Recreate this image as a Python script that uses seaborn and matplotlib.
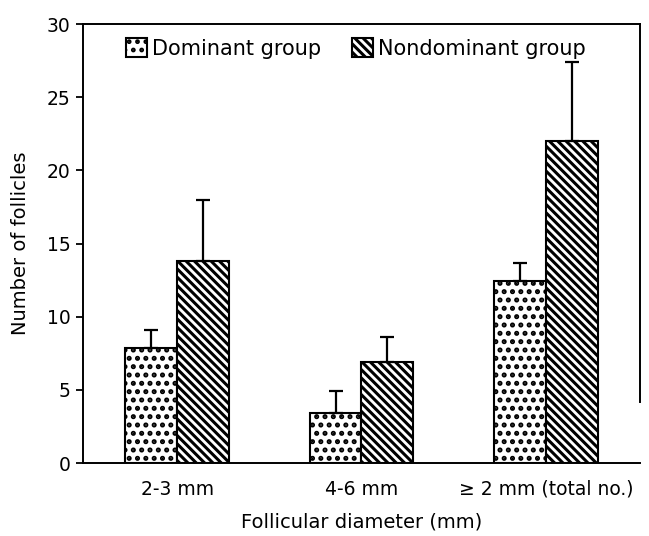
import matplotlib
matplotlib.use("Agg")
import matplotlib.pyplot as plt
import seaborn as sns
import pandas as pd
import numpy as np

# ---- data ----
categories = ["2-3 mm", "4-6 mm", "\u2265 2 mm (total no.)"]
groups = ["Dominant group", "Nondominant group"]
dominant_mean = [7.9, 3.4, 12.45]
dominant_err = [1.2, 1.5, 1.25]
nondominant_mean = [13.8, 6.9, 22.0]
nondominant_err = [4.2, 1.7, 5.4]
yticks = [0, 5, 10, 15, 20, 25, 30]

df = pd.DataFrame({
    "category": categories * 2,
    "group": [groups[0]] * 3 + [groups[1]] * 3,
    "value": dominant_mean + nondominant_mean,
    "err": dominant_err + nondominant_err,
})

sns.set_style("white")
plt.rcParams["font.family"] = ["DejaVu Sans"]
plt.rcParams["hatch.linewidth"] = 2.2
plt.rcParams["hatch.color"] = "black"
for k in ["text.color", "axes.labelcolor", "xtick.color", "ytick.color"]:
    plt.rcParams[k] = "black"

fig = plt.figure(figsize=(6.49, 5.36), dpi=100)
ax = fig.add_axes([0.128, 0.136, 0.858, 0.819])

sns.barplot(data=df, x="category", y="value", hue="group", order=categories,
            hue_order=groups, palette=["white", "white"], width=0.56,
            errorbar=None, edgecolor="black", linewidth=1.5, legend=False, ax=ax)

hatches = {groups[0]: "..", groups[1]: "\\\\\\\\"}
hatch_lw = {groups[0]: 2.4, groups[1]: 2.2}
bars = [p for p in ax.patches if p.get_width() > 0]
errs = dominant_err + nondominant_err
handles = []
for i, p in enumerate(bars):
    g = groups[i // 3]
    p.set_hatch(hatches[g])
    if hasattr(p, "set_hatch_linewidth"):
        p.set_hatch_linewidth(hatch_lw[g])
    p.set_edgecolor("black")
    p.set_facecolor("white")
    cx = p.get_x() + p.get_width() / 2
    h = p.get_height()
    ax.errorbar(cx, h, yerr=[[0], [errs[i]]], fmt="none", ecolor="black",
                elinewidth=1.6, capsize=5, capthick=1.6, zorder=3)
    if i % 3 == 0:
        handles.append(p)

ax.set_ylim(0, 30)
ax.set_xlim(-0.51, 2.51)
ax.set_yticks(yticks)
ax.set_yticklabels([str(t) for t in yticks], fontsize=13.5)
ax.tick_params(axis="y", left=True, length=5, width=1.3, pad=4, color="black")
ax.tick_params(axis="x", bottom=False, length=0, pad=12, labelsize=13.5)

ax.set_xlabel("Follicular diameter (mm)", fontsize=14, labelpad=10)
ax.set_ylabel("Number of follicles", fontsize=14, labelpad=12)

for s in ["left", "top", "bottom", "right"]:
    ax.spines[s].set_visible(True)
    ax.spines[s].set_color("black")
    ax.spines[s].set_linewidth(1.4)
ax.spines["right"].set_bounds(4.2, 30)

leg = ax.legend(handles=handles, labels=groups, loc="upper center",
                bbox_to_anchor=(0.49, 1.01), ncol=2, frameon=False,
                fontsize=15, handlelength=1.0, handleheight=1.0,
                handletextpad=0.25, columnspacing=1.5)
for t in leg.get_texts():
    t.set_color("black")

fig.savefig("out.png", dpi=100)
